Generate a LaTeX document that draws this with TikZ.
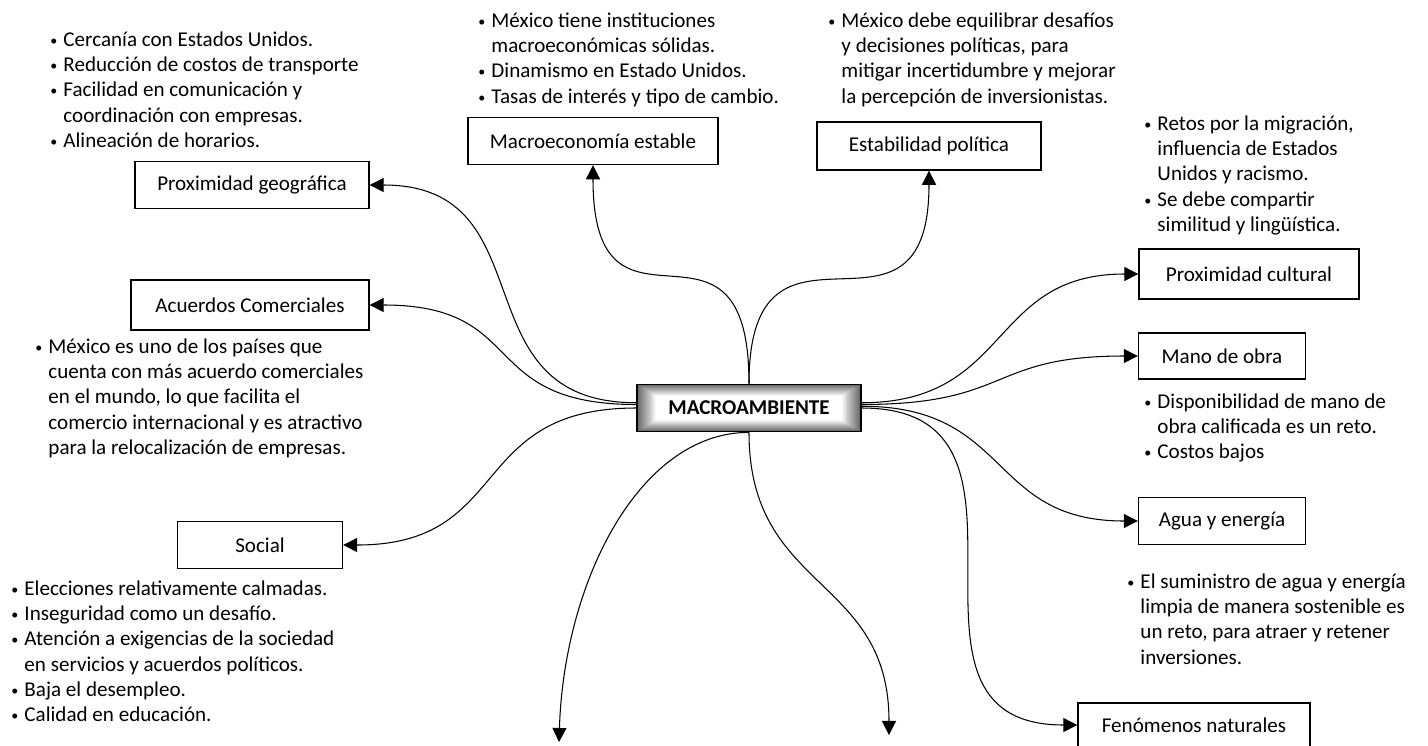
\documentclass[tikz,border=0pt]{standalone}
\usepackage{fontspec}
\setmainfont{Carlito}
\usetikzlibrary{positioning,arrows.meta}

\newlength{\bhang}
\setlength{\bhang}{8.5pt}
\newcommand{\bul}{\strut\makebox[\bhang][l]{\hspace{1pt}\raisebox{0.6pt}{\fontsize{8}{8}\selectfont\textbullet}}}
\newcommand{\cont}{\strut\hspace*{\bhang}}

\begin{document}
\begin{tikzpicture}[x=0.02cm,y=-0.02cm,line width=0.6pt,
    font=\fontsize{12}{14.4}\selectfont,
    box/.style={draw=black,line width=0.8pt,fill=white,inner sep=0pt},
    glow/.style={draw=black,line width=1pt,inner sep=0pt,
      path picture={\foreach \k in {0,...,20}{
        \fill[black!\the\numexpr 60-3*\k\relax]
          ([shift={(\k*0.55pt,-\k*0.32pt)}]path picture bounding box.north west) rectangle
          ([shift={(-\k*0.55pt,\k*0.32pt)}]path picture bounding box.south east);}}},
    note/.style={anchor=north west,inner sep=0pt,align=left},
    arr/.style={-{Triangle[length=8pt,width=8pt]}}]
\useasboundingbox (0,0) rectangle (1428,745);
\clip (0,0) rectangle (1428,745);

% centro
\node[glow,minimum width=4.48cm,minimum height=0.94cm,font=\fontsize{12}{14.4}\selectfont\bfseries] (mac) at (749,408) {MACROAMBIENTE};

% factores
\node[box,minimum width=4.68cm,minimum height=0.94cm] (geo) at (252,185) {Proximidad geográfica};
\node[box,minimum width=4.76cm,minimum height=1cm] (acu) at (250,305) {Acuerdos Comerciales};
\node[box,minimum width=3.3cm,minimum height=0.94cm] (soc) at (260,545) {Social};
\node[box,minimum width=5cm,minimum height=0.94cm] (mcr) at (593,141) {Macroeconomía estable};
\node[box,minimum width=4.48cm,minimum height=0.96cm] (est) at (929,146) {Estabilidad política};
\node[box,minimum width=4.4cm,minimum height=1cm] (cul) at (1249,274) {Proximidad cultural};
\node[box,minimum width=3.34cm,minimum height=0.92cm] (mno) at (1222,356) {Mano de obra};
\node[box,minimum width=3.34cm,minimum height=0.94cm] (agu) at (1222,521) {Agua y energía};
\node[box,minimum width=4.64cm,minimum height=0.88cm] (fen) at (1194,725) {Fenómenos naturales};
\coordinate (d1) at (559,742);
\coordinate (d2) at (889,735);

% notas
\node[note] (tgeo) at (48,28) {\bul Cercanía con Estados Unidos.\\ \bul Reducción de costos de transporte\\ \bul Facilidad en comunicación y\\ \cont coordinación con empresas.\\ \bul Alineación de horarios.};
\node[note] (tmcr) at (476,9) {\bul México tiene instituciones\\ \cont macroeconómicas sólidas.\\ \bul Dinamismo en Estado Unidos.\\ \bul Tasas de interés y tipo de cambio.};
\node[note] (test) at (826,9) {\bul México debe equilibrar desafíos\\ \cont y decisiones políticas, para\\ \cont mitigar incertidumbre y mejorar\\ \cont la percepción de inversionistas.};
\node[note] (tcul) at (1142,112) {\bul Retos por la migración,\\ \cont influencia de Estados\\ \cont Unidos y racismo.\\ \bul Se debe compartir\\ \cont similitud y lingüística.};
\node[note] (tacu) at (33,335) {\bul México es uno de los países que\\ \cont cuenta con más acuerdo comerciales\\ \cont en el mundo, lo que facilita el\\ \cont comercio internacional y es atractivo\\ \cont para la relocalización de empresas.};
\node[note] (tmno) at (1142,390) {\bul Disponibilidad de mano de\\ \cont obra calificada es un reto.\\ \bul Costos bajos};
\node[note] (tsoc) at (9,577) {\bul Elecciones relativamente calmadas.\\ \bul Inseguridad como un desafío.\\ \bul Atención a exigencias de la sociedad\\ \cont en servicios y acuerdos políticos.\\ \bul Baja el desempleo.\\ \bul Calidad en educación.};
\node[note] (tagu) at (1125,570) {\bul El suministro de agua y energía\\ \cont limpia de manera sostenible es\\ \cont un reto, para atraer y retener\\ \cont inversiones.};

% conectores
\draw[arr] ([yshift=3pt]mac.west) .. controls +(-180,0) and +(180,0) .. (geo.east);
\draw[arr] ([yshift=2pt]mac.west) .. controls +(-160,0) and +(160,0) .. (acu.east);
\draw[arr] (mac.west) .. controls +(-170,0) and +(170,0) .. (soc.east);
\draw[arr] (mac.north) .. controls +(0,-200) and +(0,200) .. (mcr.south);
\draw[arr] (mac.north) .. controls +(0,-200) and +(0,200) .. (est.south);
\draw[arr] ([yshift=3pt]mac.east) .. controls +(150,0) and +(-150,0) .. (cul.west);
\draw[arr] ([yshift=2pt]mac.east) .. controls +(150,0) and +(-150,0) .. (mno.west);
\draw[arr] ([yshift=1pt]mac.east) .. controls +(150,0) and +(-150,0) .. (agu.west);
\draw[arr] (mac.east) .. controls +(210,0) and +(-210,0) .. (fen.west);
\draw[arr] (mac.south) .. controls +(-110,0) and +(5,-160) .. (d1);
\draw[arr] (mac.south) .. controls +(0,160) and +(0,-160) .. (d2);
\end{tikzpicture}
\end{document}
